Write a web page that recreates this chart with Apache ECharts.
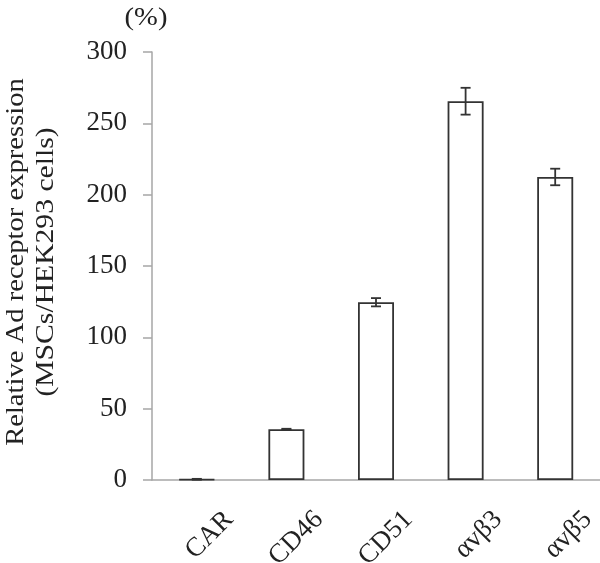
<!DOCTYPE html>
<html>
<head>
<meta charset="utf-8">
<script src="https://cdn.jsdelivr.net/npm/echarts@6/dist/echarts.min.js"></script>
<style>html,body{margin:0;padding:0;background:#fff;}#c{width:600px;height:563px;}</style>
</head>
<body>
<div id="c"></div>
<script>
var categories = ['CAR', 'CD46', 'CD51', 'αvβ3', 'αvβ5'];
var values = [0.5, 35.6, 124.6, 265.5, 212.4];
var errors = [0.3, 0.3, 2.9, 9.4, 5.8];
var yTicks = [0, 50, 100, 150, 200, 250, 300];
var yTitle1 = 'Relative Ad receptor expression';
var yTitle2 = '(MSCs/HEK293 cells)';
var unitLabel = '(%)';

var FONT = '"Liberation Serif", "Times New Roman", serif';
var chart = echarts.init(document.getElementById('c'), null, {renderer: 'canvas'});
var errData = categories.map(function (c, i) { return [i, values[i] - errors[i], values[i] + errors[i]]; });

chart.setOption({
  animation: false,
  backgroundColor: '#fff',
  grid: {left: 152, right: 0, top: 52, bottom: 83, containLabel: false, outerBoundsMode: 'none'},
  xAxis: {
    type: 'category',
    data: categories,
    axisLine: {lineStyle: {color: '#a6a6a6', width: 1.5}},
    axisTick: {show: false},
    axisLabel: {
      rotate: 45, margin: 68, interval: 0,
      fontFamily: FONT, fontSize: 27, color: '#222',
      padding: [0, -46, 0, 0]
    }
  },
  yAxis: {
    type: 'value', min: yTicks[0], max: yTicks[yTicks.length - 1], interval: 50,
    axisLine: {show: true, lineStyle: {color: '#a6a6a6', width: 1.5}},
    axisTick: {show: true, inside: false, length: 9, lineStyle: {color: '#a6a6a6', width: 1.5}},
    splitLine: {show: false},
    axisLabel: {margin: 25, fontFamily: FONT, fontSize: 27, color: '#222'}
  },
  series: [
    {
      type: 'bar', data: values, barWidth: 36,
      itemStyle: {color: '#fff', borderColor: '#333', borderWidth: 1.8}
    },
    {
      type: 'custom', data: errData, z: 10,
      renderItem: function (params, api) {
        var x = api.value(0);
        var lo = api.coord([x, api.value(1)]);
        var hi = api.coord([x, api.value(2)]);
        var hw = 5;
        var st = {stroke: '#333', lineWidth: 1.8};
        return {type: 'group', children: [
          {type: 'line', shape: {x1: lo[0], y1: lo[1], x2: hi[0], y2: hi[1]}, style: st},
          {type: 'line', shape: {x1: lo[0] - hw, y1: lo[1], x2: lo[0] + hw, y2: lo[1]}, style: st},
          {type: 'line', shape: {x1: hi[0] - hw, y1: hi[1], x2: hi[0] + hw, y2: hi[1]}, style: st}
        ]};
      }
    }
  ],
  graphic: [
    {type: 'text', x: 16, y: 262, rotation: Math.PI / 2, scaleX: 1.1, style: {text: yTitle1, font: '26px ' + FONT, fill: '#222', textAlign: 'center', textVerticalAlign: 'middle'}},
    {type: 'text', x: 46, y: 262, rotation: Math.PI / 2, scaleX: 1.14, style: {text: yTitle2, font: '26px ' + FONT, fill: '#222', textAlign: 'center', textVerticalAlign: 'middle'}},
    {type: 'text', x: 146, y: 18, scaleX: 1.1, style: {text: unitLabel, font: '26px ' + FONT, fill: '#222', textAlign: 'center', textVerticalAlign: 'middle'}}
  ]
});
</script>
</body>
</html>
